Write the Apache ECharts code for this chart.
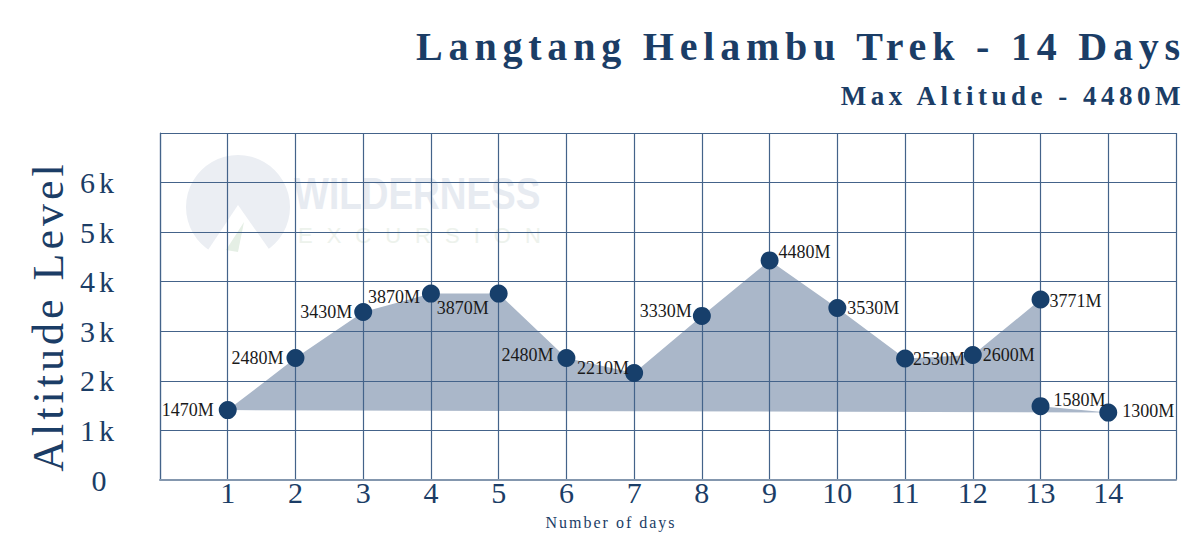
<!DOCTYPE html>
<html><head><meta charset="utf-8">
<script src="https://cdn.jsdelivr.net/npm/echarts@6/dist/echarts.min.js"></script>
<style>html,body{margin:0;padding:0;background:#fff}#c{width:1200px;height:556px}</style>
</head><body><div id="c"></div>
<script>
// ---- data ----
const titleText = 'Langtang Helambu Trek - 14 Days';
const subtitleText = 'Max Altitude - 4480M';
const xAxisName = 'Number of days';
const yAxisName = 'Altitude Level';
const watermarkMain = 'WILDERNESS';
const watermarkSub = 'EXCURSION';
const dayTicks = [1, 2, 3, 4, 5, 6, 7, 8, 9, 10, 11, 12, 13, 14];
const yTickValues = [0, 1000, 2000, 3000, 4000, 5000, 6000];
const yTickLabels = ['0', '1k', '2k', '3k', '4k', '5k', '6k'];
const days = [1, 2, 3, 4, 5, 6, 7, 8, 9, 10, 11, 12, 13, 13, 14];
const altitudes = [1410, 2460, 3390, 3760, 3760, 2460, 2160, 3310, 4430, 3470, 2450, 2520, 3640, 1490, 1360];
const altitudeLabels = ['1470M', '2480M', '3430M', '3870M', '3870M', '2480M', '2210M', '3330M', '4480M', '3530M', '2530M', '2600M', '3771M', '1580M', '1300M'];

// ---- label placement (style) ----
const labelPlacement = [
  { position: 'left', distance: 5, offset: [0, 0] },
  { position: 'left', distance: 3, offset: [0, 0] },
  { position: 'left', distance: 2, offset: [0, 0] },
  { position: 'left', distance: 2, offset: [0, 3] },
  { position: 'left', distance: 1, offset: [0, 14] },
  { position: 'left', distance: 4, offset: [0, -3] },
  { position: 'left', distance: -4, offset: [0, -5] },
  { position: 'left', distance: 1, offset: [0, -5] },
  { position: 'right', distance: 0, offset: [0, -8] },
  { position: 'right', distance: 1, offset: [0, 0] },
  { position: 'right', distance: -1, offset: [0, 0] },
  { position: 'right', distance: 1, offset: [0, 0] },
  { position: 'right', distance: 0, offset: [0, 1] },
  { position: 'right', distance: 4, offset: [0, -6] },
  { position: 'right', distance: 5, offset: [0, -2] }
];

const NAVY = '#1b3d66';
const SERIF = "'Liberation Serif', 'DejaVu Serif', serif";
const GRIDC = '#44638a';

const el = document.getElementById('c');
const chart = echarts.init(el, null, { renderer: 'svg' });

const option = {
  animation: false,
  backgroundColor: '#ffffff',
  grid: { left: 160, right: 24, top: 133, bottom: 76, outerBoundsMode: 'none', containLabel: false },
  xAxis: {
    type: 'value', min: 0, max: 15, interval: 1,
    axisLine: { show: true, lineStyle: { color: '#8497ae', width: 2 } },
    axisTick: { show: false },
    splitLine: { show: true, lineStyle: { color: GRIDC, width: 1.2 } },
    axisLabel: {
      margin: -3, color: NAVY, fontFamily: SERIF, fontSize: 30,
      formatter: v => dayTicks.includes(v) ? String(v) : ''
    }
  },
  yAxis: {
    type: 'value', min: 0, max: 7000, interval: 1000,
    axisLine: { show: true, lineStyle: { color: GRIDC, width: 1.2 } },
    axisTick: { show: false },
    splitLine: { show: true, lineStyle: { color: GRIDC, width: 1.2 } },
    axisLabel: {
      margin: 61, align: 'center', color: NAVY, fontFamily: SERIF, fontSize: 30,
      formatter: v => { const i = yTickValues.indexOf(v); return i >= 0 ? yTickLabels[i] : ''; }
    }
  },
  graphic: [
    { type: 'circle', z: -20, silent: true, shape: { cx: 238, cy: 207, r: 52 }, style: { fill: '#ebeef3' } },
    { type: 'polygon', z: -19, silent: true, shape: { points: [[200, 262], [238, 205], [278, 262]] }, style: { fill: '#ffffff' } },
    { type: 'polygon', z: -18, silent: true, shape: { points: [[226, 250], [244, 222], [238, 252]] }, style: { fill: '#e5efe5' } },
    { type: 'text', z: -18, silent: true, x: 294, y: 194, scaleX: 0.84, style: { text: watermarkMain, fill: '#e7ebf1', font: "bold 44px 'Liberation Sans', sans-serif", align: 'left', verticalAlign: 'middle' } },
    { type: 'text', z: -18, silent: true, x: 298, y: 235, style: { text: watermarkSub, fill: '#edf2ec', font: "22px 'Liberation Sans', sans-serif", align: 'left', verticalAlign: 'middle' } },
    { type: 'text', silent: true, x: 1186, y: 46, style: { text: titleText, fill: NAVY, font: "bold 40px " + SERIF, align: 'right', verticalAlign: 'middle' } },
    { type: 'text', silent: true, x: 1185, y: 96, style: { text: subtitleText, fill: NAVY, font: "bold 27px " + SERIF, align: 'right', verticalAlign: 'middle' } },
    { type: 'text', silent: true, x: 48, y: 316, rotation: Math.PI / 2, style: { text: yAxisName, fill: NAVY, font: "44px " + SERIF, align: 'center', verticalAlign: 'middle' } },
    { type: 'text', silent: true, x: 611, y: 522, style: { text: xAxisName, fill: NAVY, font: "16px " + SERIF, align: 'center', verticalAlign: 'middle' } }
  ],
  series: [
    {
      type: 'custom', z: -1, silent: true,
      data: [[0, 0]],
      encode: { x: 0, y: 1 },
      renderItem: (params, api) => ({
        type: 'polygon',
        shape: { points: days.map((d, i) => api.coord([d, altitudes[i]])) },
        style: { fill: '#aab7c9' }
      })
    },
    {
      type: 'scatter', symbol: 'circle', symbolSize: 18, z: 5,
      itemStyle: { color: '#173f6b', opacity: 1 },
      data: days.map((d, i) => ({
        value: [d, altitudes[i]],
        label: Object.assign({ show: true, formatter: altitudeLabels[i], color: '#1a1a1a', fontFamily: SERIF, fontSize: 18 }, labelPlacement[i])
      }))
    }
  ]
};
chart.setOption(option);

const spacing = {};
spacing[titleText] = 5.8;
spacing[subtitleText] = 4.5;
spacing[yAxisName] = 4;
spacing[xAxisName] = 2;
spacing[watermarkSub] = 14;
yTickLabels.forEach(t => { if (t.length > 1) spacing[t] = 4; });
function applySpacing() {
  el.querySelectorAll('text').forEach(t => {
    const s = t.textContent;
    if (spacing[s] != null) t.setAttribute('letter-spacing', spacing[s]);
  });
}
applySpacing();
chart.on('finished', applySpacing);
</script></body></html>
